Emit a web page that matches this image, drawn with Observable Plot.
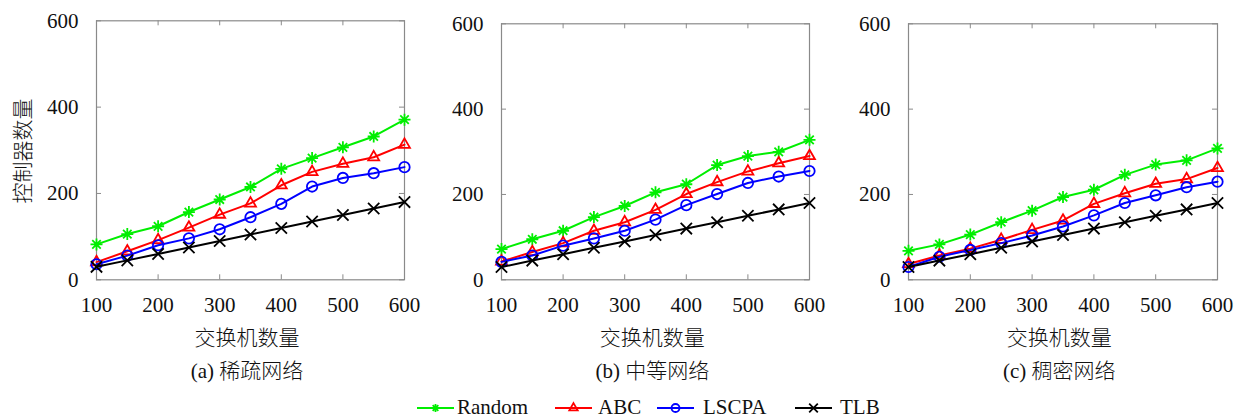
<!DOCTYPE html>
<html>
<head>
<meta charset="utf-8">
<script src="https://cdn.jsdelivr.net/npm/d3@7"></script>
<script src="https://cdn.jsdelivr.net/npm/@observablehq/plot@0.6"></script>
<style>
  html, body { margin: 0; padding: 0; background: #fff; }
  #root { position: relative; width: 1243px; height: 419px; overflow: hidden; }
  .panel { position: absolute; top: 0; }
  .lbl { position: absolute; font-family: "Liberation Serif", "DejaVu Serif", serif; font-size: 21px; color: #111; white-space: nowrap; transform: translate(-50%, -50%); }
  .cjk { font-family: "Noto Sans CJK SC", sans-serif; font-weight: 300; }
  svg text { font-family: "Liberation Serif", "DejaVu Serif", serif; }
</style>
</head>
<body>
<div id="root"></div>
<script>
// ---- data ----
const switches = [100, 150, 200, 250, 300, 350, 400, 450, 500, 550, 600];
const seriesNames = ["Random", "ABC", "LSCPA", "TLB"];
const panelTitles = ["(a) 稀疏网络", "(b) 中等网络", "(c) 稠密网络"];
const xTickValues = [100, 200, 300, 400, 500, 600];
const yTickValues = [0, 200, 400, 600];
const xLabel = "交换机数量";
const yLabel = "控制器数量";

// (a) sparse
const randomA = [82, 106, 124, 157, 186, 215, 257, 282, 307, 332, 371];
const abcA    = [41, 66, 92, 121, 151, 177, 219, 250, 269, 284, 313];
const lscpaA  = [36, 56, 80, 96, 117, 145, 176, 216, 236, 247, 261];
const tlbA    = [30, 45, 60, 75, 90, 105, 120, 135, 150, 165, 180];
// (b) medium
const randomB = [72, 95, 115, 147, 173, 205, 224, 269, 290, 300, 328];
const abcB    = [43, 65, 86, 115, 135, 164, 201, 229, 254, 273, 290];
const lscpaB  = [42, 57, 80, 97, 115, 141, 175, 201, 227, 242, 255];
const tlbB    = [30, 45, 60, 75, 90, 105, 120, 135, 150, 165, 180];
// (c) dense
const randomC = [68, 83, 106, 135, 162, 194, 211, 246, 270, 280, 308];
const abcC    = [37, 57, 73, 94, 117, 139, 178, 203, 225, 236, 262];
const lscpaC  = [30, 54, 70, 86, 104, 125, 151, 180, 198, 217, 230];
const tlbC    = [30, 45, 60, 75, 90, 105, 120, 135, 150, 165, 180];

const panelData = [
  [randomA, abcA, lscpaA, tlbA],
  [randomB, abcB, lscpaB, tlbB],
  [randomC, abcC, lscpaC, tlbC]
];

// ---- styling ----
const colors = {Random: "#00ee00", ABC: "#ff0000", LSCPA: "#0000ff", TLB: "#000000"};
const asterisk8 = {
  draw(ctx, size) {
    const r = Math.sqrt(size / Math.PI);
    for (let i = 0; i < 4; i++) {
      const a = i * Math.PI / 4;
      ctx.moveTo(r * Math.cos(a), r * Math.sin(a));
      ctx.lineTo(-r * Math.cos(a), -r * Math.sin(a));
    }
  }
};
const symbols = {Random: asterisk8, ABC: d3.symbolTriangle2, LSCPA: d3.symbolCircle, TLB: d3.symbolTimes};
const radii = {Random: 6, ABC: 5.2, LSCPA: 5.2, TLB: 5.2};

// panel geometry: frame left, frame top, frame right, frame bottom
const frames = [
  {l: 96, t: 20.3, r: 404, b: 279.3},
  {l: 501.3, t: 23.3, r: 809.3, b: 279.3},
  {l: 907.7, t: 23.3, r: 1216.7, b: 279.3}
];

const root = document.getElementById("root");
const serifFont = "'Liberation Serif', 'DejaVu Serif', serif";

frames.forEach((f, pi) => {
  const marginLeft = 70, marginRight = 16, svgHeight = 318;
  const fw = f.r - f.l, fh = f.b - f.t;
  const rows = [];
  seriesNames.forEach((s, si) => {
    switches.forEach((x, i) => rows.push({series: s, x, y: panelData[pi][si][i]}));
  });
  const marks = [
    Plot.frame({stroke: "#8a8a8a", strokeWidth: 1.2}),
    // inward ticks
    Plot.tickX(xTickValues, {x: d => d, insetTop: fh - 5, stroke: "#8a8a8a"}),
    Plot.tickX(xTickValues, {x: d => d, insetBottom: fh - 5, stroke: "#8a8a8a"}),
    Plot.tickY(yTickValues, {y: d => d, insetRight: fw - 5, stroke: "#8a8a8a"}),
    Plot.tickY(yTickValues, {y: d => d, insetLeft: fw - 5, stroke: "#8a8a8a"}),
    Plot.axisX(xTickValues, {tickSize: 0, tickPadding: 17, fontSize: 21, fontFamily: serifFont, fill: "#111", label: null}),
    Plot.axisY(yTickValues, {tickSize: 0, tickPadding: 18, fontSize: 21, fontFamily: serifFont, fill: "#111", label: null})
  ];
  seriesNames.forEach(s => {
    const d = rows.filter(r => r.series === s);
    marks.push(Plot.line(d, {x: "x", y: "y", stroke: colors[s], strokeWidth: 2}));
    marks.push(Plot.dot(d, {x: "x", y: "y", stroke: colors[s], symbol: () => symbols[s], r: radii[s], strokeWidth: 1.8, fill: "none"}));
  });
  const chart = Plot.plot({
    width: marginLeft + fw + marginRight,
    height: svgHeight,
    marginLeft, marginRight,
    marginTop: f.t,
    marginBottom: svgHeight - f.b,
    x: {domain: [100, 600]},
    y: {domain: [0, 600]},
    symbol: {type: "identity"},
    style: {background: "transparent", overflow: "visible", fontFamily: serifFont},
    marks
  });
  const wrap = document.createElement("div");
  wrap.className = "panel";
  wrap.style.left = (f.l - marginLeft) + "px";
  wrap.appendChild(chart);
  root.appendChild(wrap);

  const cx = (f.l + f.r) / 2 - 3;
  const xl = document.createElement("div");
  xl.className = "lbl cjk";
  xl.style.fontSize = "21px";
  xl.style.left = cx + "px";
  xl.style.top = "336px";
  xl.textContent = xLabel;
  root.appendChild(xl);

  const cap = document.createElement("div");
  cap.className = "lbl";
  cap.style.left = cx + "px";
  cap.style.top = "369px";
  const parts = panelTitles[pi].split(" ");
  const p1 = document.createElement("span"); p1.textContent = parts[0] + " ";
  const p2 = document.createElement("span"); p2.className = "cjk"; p2.textContent = parts[1];
  cap.appendChild(p1); cap.appendChild(p2);
  root.appendChild(cap);
});

// y label
const yl = document.createElement("div");
yl.className = "lbl cjk";
yl.style.fontSize = "21px";
yl.style.left = "21px";
yl.style.top = "151px";
yl.style.transform = "translate(-50%, -50%) rotate(-90deg)";
yl.textContent = yLabel;
root.appendChild(yl);

// legend
const legendPos = [
  {s: "Random", x: 417, tx: 40},
  {s: "ABC", x: 555, tx: 43},
  {s: "LSCPA", x: 657, tx: 46},
  {s: "TLB", x: 795, tx: 45}
];
const ns = "http://www.w3.org/2000/svg";
const lg = document.createElementNS(ns, "svg");
lg.setAttribute("width", 1243);
lg.setAttribute("height", 27);
lg.style.position = "absolute";
lg.style.top = "392px";
lg.style.left = "0px";
legendPos.forEach(({s, x, tx}) => {
  const cy = 15;
  const line = document.createElementNS(ns, "line");
  line.setAttribute("x1", x); line.setAttribute("x2", x + 37);
  line.setAttribute("y1", cy + 1); line.setAttribute("y2", cy + 1);
  line.setAttribute("stroke", colors[s]); line.setAttribute("stroke-width", 2);
  lg.appendChild(line);
  const p = document.createElementNS(ns, "path");
  const rr = 4;
  p.setAttribute("d", d3.symbol(symbols[s], Math.PI * rr * rr)());
  p.setAttribute("transform", `translate(${x + 18.5},${cy + 1})`);
  p.setAttribute("stroke", colors[s]); p.setAttribute("stroke-width", 1.8); p.setAttribute("fill", "none");
  lg.appendChild(p);
  const t = document.createElementNS(ns, "text");
  t.setAttribute("x", x + tx);
  t.setAttribute("y", cy);
  t.setAttribute("dy", "0.32em");
  t.setAttribute("font-size", 21);
  t.setAttribute("fill", "#111");
  t.textContent = s;
  lg.appendChild(t);
});
root.appendChild(lg);
</script>
</body>
</html>
